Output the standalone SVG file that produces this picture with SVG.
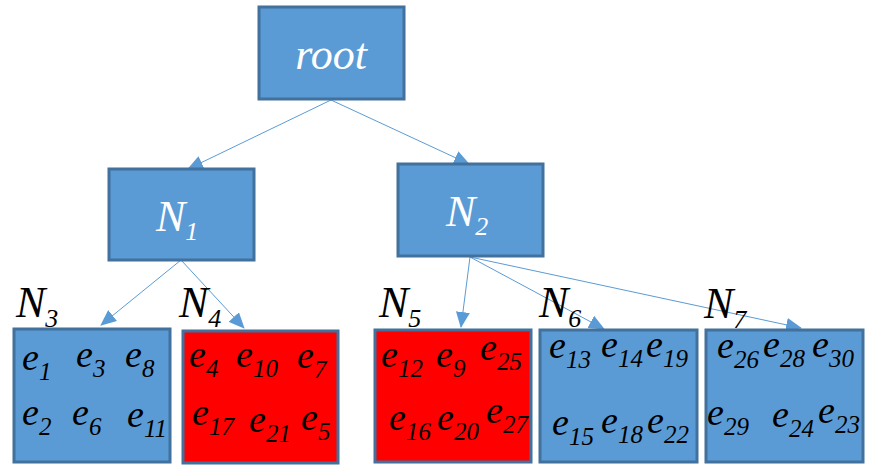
<svg xmlns="http://www.w3.org/2000/svg" width="870" height="473" viewBox="0 0 870 473">
<style>
.b{fill:#5B9BD5;stroke:#41719C;stroke-width:3}
.r{fill:#FF0000;stroke:#41719C;stroke-width:3}
.c{stroke:#5B9BD5;stroke-width:1;fill:none;marker-end:url(#a)}
</style>
<defs>
<marker id="a" markerUnits="userSpaceOnUse" markerWidth="16" markerHeight="14" refX="15" refY="7" orient="auto">
<path d="M0,0 L16,7 L0,14 Z" fill="#5B9BD5"/>
</marker>
</defs>
<g id="connectors">
<line class="c" x1="331" y1="100" x2="188" y2="169"/>
<line class="c" x1="331" y1="100" x2="469" y2="164"/>
<line class="c" x1="181" y1="260" x2="101" y2="325"/>
<line class="c" x1="181" y1="260" x2="244" y2="328"/>
<line class="c" x1="470" y1="257" x2="461" y2="327"/>
<line class="c" x1="470" y1="257" x2="604" y2="329"/>
<line class="c" x1="470" y1="257" x2="801" y2="328"/>
</g>
<g font-family="'Liberation Serif', 'Times New Roman', serif" font-style="italic" font-size="38">
<g id="root">
<rect class="b" x="259" y="7" width="145" height="92"/>
<text font-size="44" fill="#fff" x="331" y="69" text-anchor="middle">root</text>
</g>
<g id="N1">
<rect class="b" x="109" y="169" width="145" height="91"/>
<text font-size="44" fill="#fff" x="156" y="231">N<tspan font-size="26" dy="9">1</tspan></text>
</g>
<g id="N2">
<rect class="b" x="398" y="164" width="145" height="92"/>
<text font-size="44" fill="#fff" x="446" y="226">N<tspan font-size="26" dy="9">2</tspan></text>
</g>
<g id="N3">
<text font-size="44" x="16" y="317">N<tspan font-size="26" dy="10">3</tspan></text>
<rect class="b" x="14" y="329" width="156" height="133"/>
<text x="22" y="370">e<tspan font-size="25" dy="10">1</tspan></text>
<text x="76" y="367">e<tspan font-size="25" dy="10">3</tspan></text>
<text x="125" y="367">e<tspan font-size="25" dy="10">8</tspan></text>
<text x="22" y="425">e<tspan font-size="25" dy="10">2</tspan></text>
<text x="72" y="425">e<tspan font-size="25" dy="10">6</tspan></text>
<text x="127" y="427">e<tspan font-size="25" dy="10">11</tspan></text>
</g>
<g id="N4">
<text font-size="44" x="179" y="317">N<tspan font-size="26" dy="10">4</tspan></text>
<rect class="r" x="183" y="331" width="155" height="132"/>
<text x="189" y="367">e<tspan font-size="25" dy="10">4</tspan></text>
<text x="236" y="367">e<tspan font-size="25" dy="10">10</tspan></text>
<text x="297" y="368">e<tspan font-size="25" dy="10">7</tspan></text>
<text x="192" y="425">e<tspan font-size="25" dy="10">17</tspan></text>
<text x="249" y="432">e<tspan font-size="25" dy="10">21</tspan></text>
<text x="301" y="430">e<tspan font-size="25" dy="10">5</tspan></text>
</g>
<g id="N5">
<text font-size="44" x="379" y="317">N<tspan font-size="26" dy="10">5</tspan></text>
<rect class="r" x="375" y="330" width="156" height="132"/>
<text x="381" y="367">e<tspan font-size="25" dy="10">12</tspan></text>
<text x="436" y="367">e<tspan font-size="25" dy="10">9</tspan></text>
<text x="480" y="360">e<tspan font-size="25" dy="10">25</tspan></text>
<text x="389" y="430">e<tspan font-size="25" dy="10">16</tspan></text>
<text x="437" y="430">e<tspan font-size="25" dy="10">20</tspan></text>
<text x="486" y="423">e<tspan font-size="25" dy="10">27</tspan></text>
</g>
<g id="N6">
<text font-size="44" x="539" y="317">N<tspan font-size="26" dy="10">6</tspan></text>
<rect class="b" x="540" y="330" width="157" height="132"/>
<text x="549" y="358">e<tspan font-size="25" dy="10">13</tspan></text>
<text x="601" y="357">e<tspan font-size="25" dy="10">14</tspan></text>
<text x="646" y="357">e<tspan font-size="25" dy="10">19</tspan></text>
<text x="552" y="435">e<tspan font-size="25" dy="10">15</tspan></text>
<text x="601" y="433">e<tspan font-size="25" dy="10">18</tspan></text>
<text x="647" y="433">e<tspan font-size="25" dy="10">22</tspan></text>
</g>
<g id="N7">
<text font-size="44" x="704" y="318">N<tspan font-size="26" dy="10">7</tspan></text>
<rect class="b" x="706" y="330" width="157" height="132"/>
<text x="717" y="358">e<tspan font-size="25" dy="10">26</tspan></text>
<text x="763" y="357">e<tspan font-size="25" dy="10">28</tspan></text>
<text x="812" y="357">e<tspan font-size="25" dy="10">30</tspan></text>
<text x="707" y="425">e<tspan font-size="25" dy="10">29</tspan></text>
<text x="772" y="427">e<tspan font-size="25" dy="10">24</tspan></text>
<text x="818" y="423">e<tspan font-size="25" dy="10">23</tspan></text>
</g>
</g>
</svg>
